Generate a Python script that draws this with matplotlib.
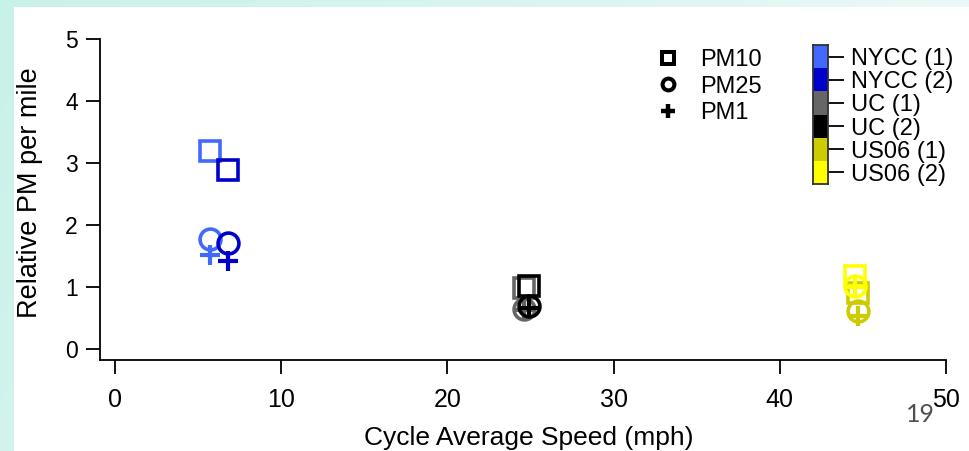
import numpy as np
import matplotlib
matplotlib.use("Agg")
import matplotlib.pyplot as plt
from matplotlib.lines import Line2D
from matplotlib.patches import Rectangle

# ---------------- data ----------------
cycles = ['NYCC (1)', 'NYCC (2)', 'UC (1)', 'UC (2)', 'US06 (1)', 'US06 (2)']
cycle_colors = ['#4169FF', '#0000CC', '#666666', '#000000', '#CCCC00', '#FFFF00']
speed = [5.7, 6.8, 24.6, 24.9, 44.7, 44.5]
pm10 = [3.20, 2.88, 0.98, 1.02, 0.90, 1.17]
pm25 = [1.78, 1.70, 0.65, 0.69, 0.61, 1.01]
pm1 = [1.52, 1.41, 0.62, 0.66, 0.53, 0.99]
size_names = ['PM10', 'PM25', 'PM1']
size_markers = ['s', 'o', '+']
xticks = [0, 10, 20, 30, 40, 50]
yticks = [0, 1, 2, 3, 4, 5]

W, H = 970, 451
plt.rcParams['font.family'] = ['Liberation Sans', 'DejaVu Sans']
fig = plt.figure(figsize=(W / 100, H / 100), dpi=100)

# ---------------- slide background ----------------
bg = fig.add_axes([0, 0, 1, 1], zorder=-10)
bg.set_axis_off()
yy, xx = np.mgrid[0:H, 0:W]
t = np.clip(0.25 * yy / H + 0.85 * xx / W, 0, 1)
mint = np.array([200, 241, 233]) / 255.0
white = np.array([240, 250, 249]) / 255.0
img = mint[None, None, :] * (1 - t[..., None]) + white[None, None, :] * t[..., None]
bg.imshow(img, extent=(0, W, H, 0), aspect='auto')
bg.set_xlim(0, W)
bg.set_ylim(H, 0)
bg.add_patch(Rectangle((14, 7), W - 14, H - 7, facecolor='white', edgecolor='none'))

# ---------------- page number (behind axis labels) ----------------
fig.text(920 / W, 1 - 414 / H, '19', ha='center', va='center', fontsize=18,
         color='#505050', family=['Lato', 'Liberation Sans'], zorder=0)

# ---------------- main axes ----------------
L, R, T, B = 100, 946, 39, 360
ax = fig.add_axes([L / W, (H - B) / H, (R - L) / W, (B - T) / H])
ax.patch.set_alpha(0)
ax.set_xlim(-0.9, 50)
ax.set_ylim(-0.18, 5)
for s in ['top', 'right']:
    ax.spines[s].set_visible(False)
for s in ['left', 'bottom']:
    ax.spines[s].set_linewidth(1.3)
ax.set_xticks(xticks)
ax.set_yticks(yticks)
ax.tick_params(axis='both', length=10, width=1.3, direction='out')
ax.tick_params(axis='y', pad=6, labelsize=16.5)
ax.tick_params(axis='x', pad=10, labelsize=18)
ax.set_xlabel('Cycle Average Speed (mph)', fontsize=19, labelpad=10)
ax.set_ylabel('Relative PM per mile', fontsize=19.5, labelpad=16)
ax.xaxis.label.set_x(0.507)
ax.yaxis.label.set_y(0.52)

for i in range(len(cycles)):
    c = cycle_colors[i]
    ax.plot(speed[i], pm10[i], ls='none', marker='s', ms=15, mew=2.6,
            mfc='none', mec=c, zorder=3 + i)
    ax.plot(speed[i], pm25[i], ls='none', marker='o', ms=15, mew=2.6,
            mfc='none', mec=c, zorder=3 + i)
    ax.plot(speed[i], pm1[i], ls='none', marker='+', ms=14, mew=3,
            mec=c, zorder=3 + i)

# ---------------- marker legend ----------------
handles = [Line2D([], [], ls='none', marker=m, color='k', mfc='none',
                  ms=(10 if m == '+' else 8.5), mew=(3.2 if m == '+' else 2.9))
           for m in size_markers]
leg = fig.legend(handles, size_names, loc='upper left',
                 bbox_to_anchor=(656 / W, 1 - 49 / H), frameon=False,
                 fontsize=17, borderpad=0, borderaxespad=0, handlelength=1.0,
                 handletextpad=0.86, labelspacing=0.2)

# ---------------- colour key ----------------
cax = fig.add_axes([813 / W, (H - 184) / H, 15 / W, 139 / H])
cax.barh(range(len(cycles)), [1] * len(cycles), height=1.0, color=cycle_colors,
         edgecolor='none')
cax.set_xlim(0, 1)
cax.set_ylim(len(cycles) - 0.5, -0.5)
cax.set_xticks([])
cax.yaxis.tick_right()
cax.set_yticks(range(len(cycles)))
cax.set_yticklabels(cycles)
cax.tick_params(axis='y', length=11.5, width=1.3, pad=5, labelsize=17)
for s in cax.spines.values():
    s.set_linewidth(1.3)
    s.set_edgecolor('#333333')

fig.savefig('out.png', dpi=100)
